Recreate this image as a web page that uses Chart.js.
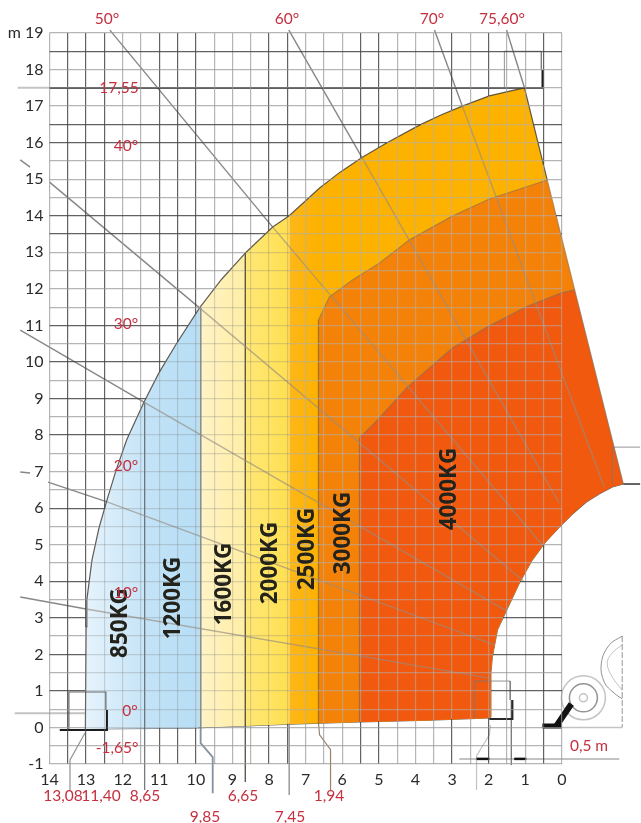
<!DOCTYPE html>
<html>
<head>
<meta charset="utf-8">
<title>Load chart</title>
<style>
  html, body { margin: 0; padding: 0; background: #fff; }
  canvas { display: block; }
</style>
<script src="https://cdn.jsdelivr.net/npm/chart.js@4/dist/chart.umd.js"></script>
</head>
<body>
<canvas id="loadChart" width="641" height="823"></canvas>
<script>
// working envelope of the boom, metres
const envelopeX = [13.02, 13.03, 13.0, 12.98, 12.84, 12.65, 12.43, 12.18, 11.89, 11.42, 11.01, 10.52, 9.90, 9.29, 8.65, 7.90, 7.45, 6.62, 6.05, 5.44, 4.79, 3.89, 3.32, 2.72, 1.98, 1.51, 1.02, 0.40, -0.35, -1.68];
const envelopeY = [-0.04, 0.94, 2.75, 3.49, 4.58, 5.45, 6.22, 7.04, 7.87, 8.90, 9.70, 10.52, 11.48, 12.27, 12.98, 13.69, 14.0, 14.76, 15.2, 15.61, 15.99, 16.48, 16.75, 17.0, 17.28, 17.39, 17.5, 14.98, 11.97, 6.66];
const lowerX = [13.02, 10.17, 7.44, 5.53, 3.62, 1.98, 1.95, 1.94, 1.90, 1.76, 1.51, 1.16, 0.81, 0.45, 0.07, -0.29, -0.67, -1.02, -1.38, -1.68];
const lowerY = [-0.04, -0.02, 0.09, 0.15, 0.20, 0.26, 0.29, 1.49, 1.93, 2.67, 3.21, 3.95, 4.58, 5.07, 5.48, 5.84, 6.17, 6.39, 6.58, 6.66];
const arc3000X = [6.65, 6.35, 5.72, 4.98, 4.16, 2.99, 1.98, 0.81, 0.40, -0.35];
const arc3000Y = [11.15, 11.78, 12.24, 12.71, 13.34, 13.99, 14.46, 14.84, 14.98, 11.97];
const arc4000X = [5.53, 5.04, 4.22, 2.99, 2.03, 0.97, 0.01, -0.35, -1.68];
const arc4000Y = [7.92, 8.41, 9.31, 10.38, 10.96, 11.51, 11.89, 11.97, 6.66];

// reach limits of the load bands
const bandLimits = [13.02, 11.42, 9.90, 8.65, 7.45, 0.40];
const loadLabels = ['850KG', '1200KG', '1600KG', '2000KG', '2500KG', '3000KG', '4000KG'];

// boom angle rays: start, where they meet the envelope, end
const ray50 = [[12.35, 19.08], [7.90, 13.69], [0.48, 4.93]];
const ray60 = [[7.46, 19.08], [5.47, 15.61], [0.07, 6.14]];
const ray70 = [[3.48, 19.08], [2.72, 17.0], [-1.16, 6.58]];
const ray40 = [[14.0, 14.92], [9.90, 11.48], [1.02, 3.98]];
const ray30 = [[14.80, 10.87], [11.42, 8.90], [1.51, 3.19]];
const ray20 = [[14.04, 6.71], [12.43, 6.17], [1.84, 2.26]];
const ray10 = [[14.80, 3.57], [13.0, 3.24], [1.98, 1.35]];
const ray75 = [[1.51, 19.08], [1.02, 17.5]];
const ray40Stub = [[14.80, 15.53], [14.53, 15.33]];
const ray20Stub = [[14.80, 6.99], [14.53, 6.96]];
const ray0 = [[14.95, 0.39], [13.03, 0.39]];

// leaders from the band limits down to the red reach values
const leader1308 = [[13.03, -0.15], [13.44, -0.89], [13.44, -1.71]];
const leader1140 = [[11.40, 8.9], [11.40, -1.71]];
const leader985 = [[9.87, 11.48], [9.87, -0.43], [9.54, -0.81], [9.54, -1.80]];
const leader865 = [[8.65, 12.98], [8.65, -1.49]];
const leader745 = [[7.45, 0.1], [7.45, -1.85]];
const leader665 = [[6.65, 11.15], [6.65, 0.13], [6.62, -0.2], [6.32, -0.61], [6.32, -1.71]];
const leader553 = [[5.53, 7.92], [5.53, 0.15]];
const leader194 = [[1.95, 0.07], [1.98, -0.2], [2.33, -0.78], [2.33, -1.71]];

// load hook outlines
const hookTop = [[14.0, 17.5], [0.53, 17.5], [0.53, 17.99]];
const hookTopLead = [[14.87, 17.5], [14.0, 17.5]];
const hookTopBox = [[1.57, 17.5], [1.57, 18.5], [0.56, 18.5], [0.56, 18.0]];
const hookLeft = [[13.72, -0.07], [12.43, -0.07], [12.43, 0.48]];
const hookLeftBox = [[13.47, -0.07], [13.47, 0.97], [12.46, 0.97], [12.46, 0.48]];
const hookRight = [[1.98, 0.23], [1.35, 0.23], [1.35, 0.75]];
const hookRightBox = [[2.39, 0.23], [2.39, 1.27], [1.41, 1.27], [1.41, 0.75]];
const hookRightDrop = [[1.38, 0.75], [1.38, -1.03]];
const pointBox = [[-1.38, 6.66], [-1.38, 7.67], [-2.14, 7.67]];
const pointBase = [[-1.68, 6.66], [-2.14, 6.66]];

// 0,5 m dimension and the machine sketch
const dimLine = [[2.80, -0.86], [-1.57, -0.86]];
const dimLeft = [[2.33, -0.86], [1.98, -0.86]];
const dimRight = [[1.30, -0.86], [0.97, -0.86]];
const forkFoot = [[0.53, 0.04], [0, 0.04]];
const forkArm = [[0.15, 0.04], [-0.26, 0.64]];
const wheelRings = [[-0.59, 0.81], [-0.59, 0.81], [-0.59, 0.81], [-0.59, 0.81], [-0.59, 0.81]];
const groundLine = [[0.53, 0], [-1.65, 0]];
const frameLine = [[-1.65, 2.5], [-1.65, 0]];
const bodyOuter = [[-1.65, 2.5], [-1.30, 2.26], [-1.08, 1.76], [-1.16, 1.24], [-1.43, 0.94], [-1.65, 0.78]];
const bodyInner = [[-1.65, 2.26], [-1.38, 2.04], [-1.24, 1.76], [-1.38, 1.38], [-1.65, 1.02]];

// grid lines that print darker in the original
const strongX = [13.5, 13, 12.5, 11, 10.5, 10, 8, 7.5, 5.5, 5, 3, 2, 0.5];
const strongY = [18.5, 16.5, 16, 14, 13.5, 11, 10, 9, 8, 6, 4, 3, 2, 1];

const angleLabels = ['50°', '60°', '70°', '75,60°', '17,55', '40°', '30°', '20°', '10°', '0°', '-1,65°'];
const reachLabels = ['13,08', '11,40', '8,65', '6,65', '1,94', '9,85', '7,45', '0,5 m'];

const RED = '#c5303f';
const DARK_LINE = 'rgba(70,70,70,0.85)';
const LIGHT_LINE = 'rgba(150,150,150,0.7)';
const PALE_LINE = 'rgba(120,120,120,0.28)';
const TAN_LINE = 'rgba(175,175,175,0.55)';
const CLEAR = 'rgba(0,0,0,0)';
const SPLIT_X = 7.45;

function toPoints(xs, ys) {
    return xs.map((x, i) => ({ x: x, y: ys[i] }));
}

function pairs(list) {
    return list.map(p => ({ x: p[0], y: p[1] }));
}

function bandTop(from, to) {
    return toPoints(envelopeX, envelopeY).filter(p => p.x <= from && p.x >= to);
}

// where a grid line at this value enters and leaves the filled shape
function crossings(value, along) {
    const ox = envelopeX.concat(lowerX.slice().reverse());
    const oy = envelopeY.concat(lowerY.slice().reverse());
    const a = along === 'x' ? ox : oy;
    const b = along === 'x' ? oy : ox;
    const hits = [];
    for (let i = 0; i < a.length - 1; i++) {
        const lo = Math.min(a[i], a[i + 1]);
        const hi = Math.max(a[i], a[i + 1]);
        if (value >= lo && value <= hi && lo !== hi) {
            hits.push(b[i] + (b[i + 1] - b[i]) * (value - a[i]) / (a[i + 1] - a[i]));
        }
    }
    return hits;
}

function addPieces(grad, p0, p1, pieces) {
    pieces.forEach(function(piece) {
        const f0 = Math.min(1, Math.max(0, (piece[0] - p0) / (p1 - p0)));
        const f1 = Math.min(1, Math.max(0, (piece[1] - p0) / (p1 - p0)));
        grad.addColorStop(f0, piece[2]);
        grad.addColorStop(f1, piece[2]);
    });
    return grad;
}

function verticalGridColor(c) {
    const area = c.chart.chartArea;
    if (!area || !c.tick || c.tick.value < 0) return CLEAR;
    const v = c.tick.value;
    const y = c.chart.scales.y;
    const outer = strongX.includes(v) ? DARK_LINE : LIGHT_LINE;
    const hits = crossings(v, 'x');
    const grad = c.chart.ctx.createLinearGradient(0, area.top, 0, area.bottom);
    if (hits.length < 2) return outer;
    const inner = v > SPLIT_X ? PALE_LINE : TAN_LINE;
    const top = y.getPixelForValue(Math.max.apply(null, hits));
    const bottom = y.getPixelForValue(Math.min.apply(null, hits));
    return addPieces(grad, area.top, area.bottom, [
        [area.top, top, outer], [top, bottom, inner], [bottom, area.bottom, outer]
    ]);
}

function horizontalGridColor(c) {
    const area = c.chart.chartArea;
    if (!area || !c.tick) return CLEAR;
    const v = c.tick.value;
    const x = c.chart.scales.x;
    const outer = strongY.includes(v) ? DARK_LINE : LIGHT_LINE;
    const zero = x.getPixelForValue(0);
    const grad = c.chart.ctx.createLinearGradient(area.left, 0, area.right, 0);
    const hits = crossings(v, 'y');
    if (hits.length < 2) {
        return addPieces(grad, area.left, area.right, [[area.left, zero, outer], [zero, area.right, CLEAR]]);
    }
    const enter = x.getPixelForValue(Math.max.apply(null, hits));
    const exit = Math.min(zero, x.getPixelForValue(Math.min.apply(null, hits)));
    const split = Math.max(enter, Math.min(exit, x.getPixelForValue(SPLIT_X)));
    return addPieces(grad, area.left, area.right, [
        [area.left, enter, outer], [enter, split, PALE_LINE], [split, exit, TAN_LINE],
        [exit, zero, outer], [zero, area.right, CLEAR]
    ]);
}

function bandGradient(from, to, c0, c1) {
    return function(c) {
        const area = c.chart.chartArea;
        if (!area) return c0;
        const x = c.chart.scales.x;
        const grad = c.chart.ctx.createLinearGradient(x.getPixelForValue(from), 0, x.getPixelForValue(to), 0);
        grad.addColorStop(0, c0);
        grad.addColorStop(1, c1);
        return grad;
    };
}

function mark(data, color, width, extra) {
    return Object.assign({
        data: data,
        borderColor: color,
        borderWidth: width,
        pointRadius: 0,
        fill: false,
        clip: false
    }, extra || {});
}

// ray that prints softer once it is inside the coloured shape
function ray(data) {
    return mark(data, RAY, 1.4, {
        segment: { borderColor: s => (s.p0DataIndex === 0 ? RAY : RAY_INSIDE) }
    });
}

function zone(data, target, color, edge) {
    return {
        data: data,
        borderColor: edge,
        borderWidth: 1.2,
        pointRadius: 0,
        backgroundColor: color,
        fill: target
    };
}

const ENVELOPE_EDGE = 'rgba(70,65,55,0.85)';
const RAY = 'rgba(70,70,70,0.65)';
const RAY_INSIDE = 'rgba(150,140,130,0.65)';
const THIN = 'rgba(120,120,120,0.8)';
const FAINT = 'rgba(170,170,170,0.7)';

// first dataset paints last, so the lines go in front and the widest fill at the end
const datasets = [
    mark(pairs(hookTop), '#1c1c1c', 1.8),
    mark(pairs(hookLeft), '#1c1c1c', 2),
    mark(pairs(hookRight), '#2a2a2a', 2),
    mark(pairs(pointBase), '#333', 1.5),
    mark(pairs(forkFoot), '#111', 5),
    mark(pairs(forkArm), '#111', 6),
    mark(pairs(dimLeft), '#111', 2.5),
    mark(pairs(dimRight), '#111', 2.5),
    mark(pairs(hookTopLead), FAINT, 2),
    mark(pairs(hookTopBox), THIN, 1),
    mark(pairs(hookLeftBox), 'rgba(70,70,70,0.8)', 1.2),
    mark(pairs(hookRightBox), THIN, 1),
    mark(pairs(hookRightDrop), THIN, 1),
    mark(pairs(pointBox), THIN, 1),
    mark(pairs(dimLine), FAINT, 2),
    mark(pairs(groundLine), FAINT, 1.5),
    mark(pairs(frameLine), THIN, 1, { borderDash: [6, 2] }),
    mark(pairs(bodyOuter), THIN, 1, { tension: 0.4 }),
    mark(pairs(bodyInner), FAINT, 1, { tension: 0.4 }),
    // end points stay at radius 0, the layout reserves room for the first and last point only
    mark(pairs(wheelRings), THIN, 1, {
        showLine: false,
        pointRadius: [0, 22, 14, 4, 0],
        pointBorderColor: [CLEAR, FAINT, THIN, FAINT, CLEAR],
        pointBorderWidth: 1.5,
        pointBackgroundColor: CLEAR
    }),
    ray(pairs(ray50)),
    ray(pairs(ray60)),
    ray(pairs(ray70)),
    ray(pairs(ray40)),
    ray(pairs(ray30)),
    ray(pairs(ray20)),
    ray(pairs(ray10)),
    mark(pairs(ray75), RAY, 1.4),
    mark(pairs(ray40Stub), RAY, 1.4),
    mark(pairs(ray20Stub), RAY, 1.4),
    mark(pairs(ray0), FAINT, 2),
    mark(pairs(leader1308), THIN, 1.2),
    mark(pairs(leader1140), 'rgba(80,90,100,0.8)', 1.3),
    mark(pairs(leader985), 'rgba(90,110,130,0.75)', 1.8),
    mark(pairs(leader865), 'rgba(60,60,50,0.9)', 1.3),
    mark(pairs(leader745), THIN, 1.4),
    mark(pairs(leader665), 'rgba(130,100,70,0.8)', 1.2),
    mark(pairs(leader553), 'rgba(160,100,60,0.8)', 1.2),
    mark(pairs(leader194), FAINT, 1.2)
];

const lowerIndex = datasets.length + 7;
datasets.push(
    zone(toPoints(arc4000X, arc4000Y), lowerIndex, '#f1590f', 'rgba(150,110,80,0.8)'),
    zone(toPoints(arc3000X, arc3000Y), lowerIndex, '#f58208', 'rgba(160,120,70,0.8)'),
    zone(bandTop(bandLimits[4], bandLimits[5]), lowerIndex, bandGradient(7.45, 6.65, '#fdb71a', '#fdb200'), ENVELOPE_EDGE),
    zone(bandTop(bandLimits[3], bandLimits[4]), lowerIndex, bandGradient(8.65, 7.45, '#ffe878', '#ffdf50'), ENVELOPE_EDGE),
    zone(bandTop(bandLimits[2], bandLimits[3]), lowerIndex, bandGradient(9.90, 8.65, '#fff3c8', '#ffeea4'), ENVELOPE_EDGE),
    zone(bandTop(bandLimits[1], bandLimits[2]), lowerIndex, bandGradient(11.42, 9.90, '#c4e3f7', '#b6def5'), ENVELOPE_EDGE),
    zone(bandTop(bandLimits[0], bandLimits[1]), lowerIndex, bandGradient(13.02, 11.42, '#e6f3fc', '#c6e4f7'), ENVELOPE_EDGE),
    mark(toPoints(lowerX, lowerY), 'rgba(50,50,50,0.75)', 1.2)
);

// red captions and load names are placed on the page, not on the data
const redText = [
    [angleLabels[0], 107, 19], [angleLabels[1], 287, 19], [angleLabels[2], 432, 19], [angleLabels[3], 502, 19],
    [angleLabels[4], 119, 88], [angleLabels[5], 126, 146], [angleLabels[6], 126, 324], [angleLabels[7], 126, 466],
    [angleLabels[8], 126, 593], [angleLabels[9], 130, 711], [angleLabels[10], 117, 748],
    [reachLabels[0], 63, 796], [reachLabels[1], 101, 796], [reachLabels[2], 145, 796], [reachLabels[3], 243, 796],
    [reachLabels[4], 329, 796], [reachLabels[5], 205, 817], [reachLabels[6], 290, 817], [reachLabels[7], 589, 746]
];
const loadPlaces = [[121, 623], [174, 598], [225, 584], [271, 563], [308, 549], [344, 533], [450, 489]];

const captionsPlugin = {
    id: 'captions',
    afterDraw(chart) {
        const ctx = chart.ctx;
        ctx.save();
        ctx.textAlign = 'center';
        ctx.textBaseline = 'middle';
        ctx.fillStyle = '#23231c';
        ctx.font = 'bold 22.5px "Open Sans"';
        loadLabels.forEach(function(text, i) {
            ctx.save();
            ctx.translate(loadPlaces[i][0], loadPlaces[i][1]);
            ctx.rotate(-Math.PI / 2);
            ctx.fillText(text, 0, 0);
            ctx.restore();
        });
        ctx.fillStyle = RED;
        ctx.font = '15.5px Lato';
        redText.forEach(function(item) {
            ctx.fillText(item[0], item[1], item[2]);
        });
        ctx.restore();
    }
};

const ctx = document.getElementById('loadChart');

new Chart(ctx, {
    type: 'line',
    data: { datasets: datasets },
    plugins: [captionsPlugin],
    options: {
        responsive: false,
        animation: false,
        layout: { padding: { top: 33, right: 5.3, left: 0, bottom: 0 } },
        plugins: { legend: { display: false }, tooltip: { enabled: false } },
        scales: {
            x: {
                type: 'linear',
                reverse: true,
                min: -2,
                max: 14,
                afterFit: function(scale) { scale.height = 59; },
                border: { display: false },
                grid: {
                    z: 1,
                    tickLength: 0,
                    color: verticalGridColor,
                    lineWidth: 1.2
                },
                ticks: {
                    stepSize: 0.5,
                    autoSkip: false,
                    maxRotation: 0,
                    padding: 6,
                    color: '#2b2b2b',
                    font: { family: 'Lato', size: 16 },
                    callback: function(value) {
                        return Number.isInteger(value) && value >= 0 ? String(value) : '';
                    }
                }
            },
            y: {
                min: -1,
                max: 19,
                afterFit: function(scale) { scale.width = 49.5; },
                border: { display: false },
                grid: {
                    z: 1,
                    tickLength: 0,
                    color: horizontalGridColor,
                    lineWidth: 1.2
                },
                ticks: {
                    stepSize: 0.5,
                    autoSkip: false,
                    padding: 6,
                    color: '#2b2b2b',
                    font: { family: 'Lato', size: 16 },
                    callback: function(value) {
                        if (value === 19) return 'm 19';
                        return Number.isInteger(value) ? String(value) : '';
                    }
                }
            }
        }
    }
});
</script>
</body>
</html>
